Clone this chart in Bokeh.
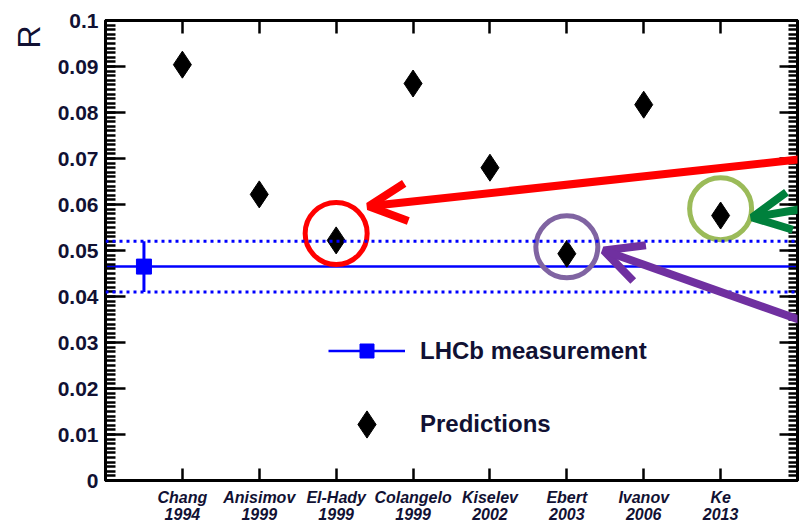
from bokeh.plotting import figure
from bokeh.models import (Range1d, LinearAxis, FixedTicker, SingleIntervalTicker,
                          NumeralTickFormatter, CustomJSTickFormatter, Legend, LegendItem,
                          Title, Arrow, OpenHead, Span)
from bokeh.embed import file_html
from bokeh.resources import INLINE

# ---------------- data ----------------
models = ["Chang", "Anisimov", "El-Hady", "Colangelo", "Kiselev", "Ebert", "Ivanov", "Ke"]
years = ["1994", "1999", "1999", "1999", "2002", "2003", "2006", "2013"]
predictions = [0.0904, 0.0622, 0.0522, 0.0863, 0.0680, 0.0493, 0.0817, 0.0576]
lhcb_value = 0.0465
lhcb_error = 0.0055
lhcb_position = 0.5
highlighted = {"El-Hady": "#ff0000", "Ebert": "#8064a2", "Ke": "#9bbb59"}

positions = list(range(1, len(models) + 1))
x_lo, x_hi = 0, len(models) + 1
y_lo, y_hi = 0.0, 0.1

FONT = "Liberation Sans"
TXT = "#111133"

p = figure(width=800, height=526, output_backend="svg", toolbar_location=None,
           x_range=Range1d(x_lo, x_hi), y_range=Range1d(y_lo, y_hi),
           x_axis_type=None, y_axis_type=None,
           min_border_left=105, min_border_right=3, min_border_top=20, min_border_bottom=46)
p.outline_line_color = "black"
p.outline_line_width = 3
p.background_fill_color = "white"
p.border_fill_color = "white"

blank = CustomJSTickFormatter(code="return ''")

# ---------------- axes ----------------
xticker = FixedTicker(ticks=positions)
xa = LinearAxis(ticker=xticker,
                major_label_overrides={pos: f"{m}\n{yr}" for pos, m, yr in zip(positions, models, years)},
                major_tick_in=12, major_tick_out=0, minor_tick_line_color=None,
                axis_line_width=3, major_tick_line_width=2.5,
                major_label_text_font=FONT, major_label_text_font_style="bold italic",
                major_label_text_font_size="16px", major_label_standoff=8,
                major_label_text_line_height=1.05,
                major_label_text_color=TXT)
p.add_layout(xa, "below")

xt = LinearAxis(ticker=xticker, formatter=blank, major_tick_in=13, major_tick_out=0,
                minor_tick_line_color=None, axis_line_width=3, major_tick_line_width=2.5,
                major_label_standoff=0)
p.add_layout(xt, "above")

yticker = SingleIntervalTicker(interval=0.01, num_minor_ticks=10)
ya = LinearAxis(ticker=yticker, formatter=NumeralTickFormatter(format="0.[00]"),
                major_tick_in=20, major_tick_out=0, minor_tick_in=10, minor_tick_out=0,
                axis_line_width=3, major_tick_line_width=2.5, minor_tick_line_width=2.5,
                major_label_text_font=FONT, major_label_text_font_style="bold",
                major_label_text_font_size="21px", major_label_standoff=7,
                major_label_text_color=TXT)
p.add_layout(ya, "left")

yr_axis = LinearAxis(ticker=yticker, formatter=blank, major_tick_in=18, major_tick_out=0,
                     minor_tick_in=9, minor_tick_out=0,
                     axis_line_width=3, major_tick_line_width=2.5, minor_tick_line_width=2.5,
                     major_label_standoff=0)
p.add_layout(yr_axis, "right")

p.add_layout(Title(text="R", align="right", text_font=FONT, text_font_size="32px",
                   text_font_style="normal", text_color=TXT, offset=5, standoff=15), "left")

# ---------------- LHCb measurement ----------------
for v in (lhcb_value - lhcb_error, lhcb_value + lhcb_error):
    p.add_layout(Span(location=v, dimension="width", line_color="blue",
                      line_width=3, line_dash="3 4"))
r_line = p.line([x_lo, x_hi], [lhcb_value, lhcb_value], line_color="blue", line_width=2.5)
p.segment(x0=[lhcb_position], y0=[lhcb_value - lhcb_error],
          x1=[lhcb_position], y1=[lhcb_value + lhcb_error], line_color="blue", line_width=3)
r_sq = p.scatter([lhcb_position], [lhcb_value], marker="square", size=15, color="blue")

# ---------------- predictions ----------------
r_pred = p.scatter(positions, predictions, marker="diamond", size=27, color="black")

# ---------------- highlight circles ----------------
for name, col in highlighted.items():
    i = models.index(name)
    p.circle(x=[positions[i]], y=[predictions[i] + 0.0015], radius=31, radius_units="screen",
             fill_color=None, line_color=col, line_width=5)

# ---------------- arrows ----------------
p.add_layout(Arrow(end=OpenHead(line_color="#ff0000", line_width=8, size=38),
                   x_start=9.3, y_start=0.0703, x_end=3.42, y_end=0.0596,
                   line_color="#ff0000", line_width=8))
p.add_layout(Arrow(end=OpenHead(line_color="#7030a0", line_width=8, size=38),
                   x_start=9.3, y_start=0.0333, x_end=6.48, y_end=0.0500,
                   line_color="#7030a0", line_width=8))
p.add_layout(Arrow(end=OpenHead(line_color="#00803c", line_width=8, size=38),
                   x_start=9.4, y_start=0.0600, x_end=8.41, y_end=0.0572,
                   line_color="#00803c", line_width=8))

# ---------------- legends ----------------
common = dict(glyph_width=77, label_standoff=15, padding=0, margin=0,
              border_line_alpha=0, background_fill_alpha=0,
              label_text_font=FONT, label_text_font_style="bold",
              label_text_font_size="24px", label_text_color=TXT)
leg1 = Legend(items=[LegendItem(label="LHCb measurement", renderers=[r_line, r_sq])],
              location=(223, 112), glyph_height=35, **common)
leg2 = Legend(items=[LegendItem(label="Predictions", renderers=[r_pred])],
              location=(223, 22), glyph_height=68, **common)
p.add_layout(leg1)
p.add_layout(leg2)

open("out.html", "w").write(file_html(p, INLINE))
